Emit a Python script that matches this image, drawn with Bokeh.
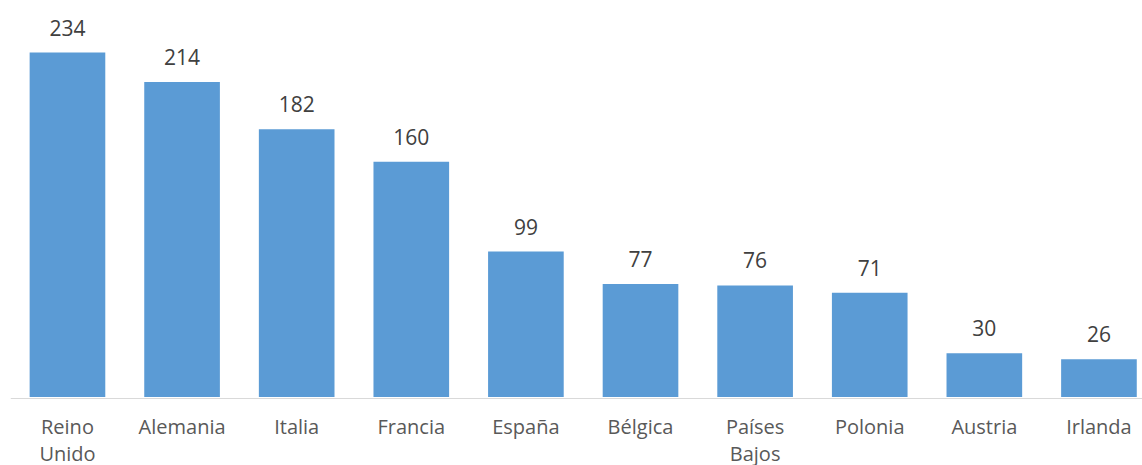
from bokeh.plotting import figure
from bokeh.models import Range1d, ColumnDataSource, Span
from bokeh.layouts import column
from bokeh.embed import file_html
from bokeh.resources import INLINE
from bokeh.core.properties import value

categories = ["Reino\nUnido", "Alemania", "Italia", "Francia", "España",
              "Bélgica", "Países\nBajos", "Polonia", "Austria", "Irlanda"]
values = [234, 214, 182, 160, 99, 77, 76, 71, 30, 26]

xs = list(range(len(categories)))
src = ColumnDataSource(dict(x=xs, top=values, label=[str(v) for v in values],
                            cat=categories, base=[0] * len(xs)))

xr = Range1d(-0.497, 9.38)
p = figure(width=1142, height=397, output_backend="svg", toolbar_location=None,
           x_range=xr, y_range=Range1d(0, 269.3),
           min_border_left=10, min_border_right=0, min_border_top=0, min_border_bottom=0)
p.outline_line_color = None
p.grid.grid_line_color = None
p.axis.visible = False

p.vbar(x="x", top="top", width=0.66, bottom=0, source=src,
       fill_color="#5B9BD5", line_color=None)
p.text(x="x", y="top", text="label", source=src, text_align="center",
       text_baseline="alphabetic", y_offset=-25, text_font=value("Open Sans"),
       text_font_size="21px", text_color="#404040")

p2 = figure(width=1142, height=68, output_backend="svg", toolbar_location=None,
            x_range=xr, y_range=Range1d(-67, 1),
            min_border_left=10, min_border_right=0, min_border_top=0, min_border_bottom=0)
p2.outline_line_color = None
p2.grid.grid_line_color = None
p2.axis.visible = False
p2.add_layout(Span(location=0, dimension="width", line_color="#D9D9D9", line_width=1))
p2.text(x="x", y="base", text="cat", source=src, text_align="center",
        text_baseline="top", y_offset=14, text_font=value("Open Sans"),
        text_font_size="20px", text_color="#595959", text_line_height=1.0)

layout = column(p, p2, spacing=0)
open("out.html", "w").write(file_html(layout, INLINE))
